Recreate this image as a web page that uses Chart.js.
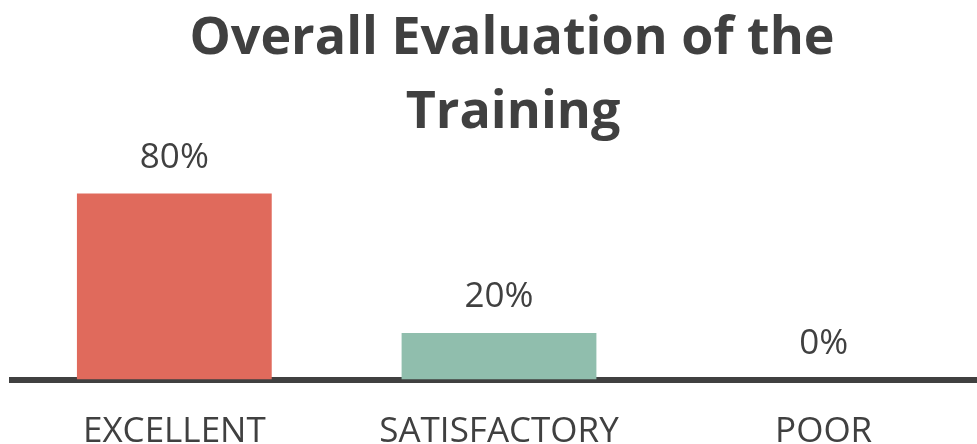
<!DOCTYPE html>
<html>
<head>
<meta charset="utf-8">
<script src="https://cdn.jsdelivr.net/npm/chart.js@4/dist/chart.umd.min.js"></script>
<style>
  html, body { margin: 0; padding: 0; background: #fff; overflow: hidden; }
  canvas { display: block; }
</style>
</head>
<body>
<!-- canvas is a bit bigger than the window, the extra is clipped -->
<canvas id="barchart" width="990" height="484"></canvas>
<script>
var categories = ['EXCELLENT', 'SATISFACTORY', 'POOR'];
var percents = [80, 20, 0];
var barColors = ['#E06A5C', '#90BEAD', '#A5A5A5'];
var titleLines = ['Overall Evaluation of the', 'Training'];

var textColor = '#404040';

// title drawn by hand so it can sit right of centre like the original
var titlePlugin = {
  id: 'bigTitle',
  afterDraw: function (chart) {
    var ctx = chart.ctx;
    ctx.save();
    ctx.font = 'bold 52px "Open Sans"';
    ctx.fillStyle = textColor;
    ctx.textAlign = 'center';
    ctx.textBaseline = 'alphabetic';
    ctx.fillText(titleLines[0], 512, 54);
    ctx.fillText(titleLines[1], 513, 128);
    ctx.restore();
  }
};

// value labels above the bars
var valueLabels = {
  id: 'valueLabels',
  afterDatasetsDraw: function (chart) {
    var ctx = chart.ctx;
    var meta = chart.getDatasetMeta(0);
    ctx.save();
    ctx.font = '35px "Open Sans"';
    ctx.fillStyle = textColor;
    ctx.textAlign = 'center';
    ctx.textBaseline = 'alphabetic';
    meta.data.forEach(function (bar, i) {
      ctx.fillText(percents[i] + '%', bar.x, bar.y - 26);
    });
    ctx.restore();
  }
};

var config = {
  type: 'bar',
  data: {
    labels: categories,
    datasets: [{
      data: percents,
      backgroundColor: barColors,
      borderWidth: 0,
      barPercentage: 0.6,
      categoryPercentage: 1
    }]
  },
  options: {
    responsive: false,
    animation: false,
    layout: { padding: { top: 147, left: 12, right: 4, bottom: 0 } },
    plugins: {
      legend: { display: false },
      title: { display: false },
      tooltip: { enabled: false }
    },
    scales: {
      x: {
        grid: { display: false, drawTicks: false },
        border: { display: true, width: 6, color: textColor },
        ticks: {
          color: textColor,
          padding: 40,
          font: { family: 'Open Sans', size: 35, lineHeight: 0.7 }
        }
      },
      y: {
        display: false,
        min: 0,
        max: 100
      }
    }
  },
  plugins: [titlePlugin, valueLabels]
};

var barchart = new Chart(document.getElementById('barchart'), config);
</script>
</body>
</html>
